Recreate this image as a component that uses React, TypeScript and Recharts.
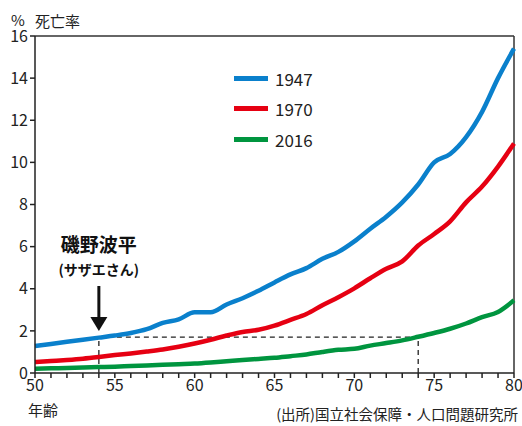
import {
  LineChart,
  Line,
  XAxis,
  YAxis,
  ReferenceLine,
  ReferenceDot,
} from "recharts";

const ages = [
  50, 51, 52, 53, 54, 55, 56, 57, 58, 59, 60, 61, 62, 63, 64, 65, 66, 67, 68,
  69, 70, 71, 72, 73, 74, 75, 76, 77, 78, 79, 80,
];
const rate1947 = [
  1.28, 1.38, 1.48, 1.58, 1.68, 1.78, 1.9, 2.08, 2.38, 2.55, 2.88, 2.88, 3.25,
  3.55, 3.9, 4.3, 4.68, 4.98, 5.42, 5.75, 6.25, 6.85, 7.42, 8.1, 8.95, 10.0,
  10.4, 11.2, 12.4, 14.0, 15.4,
];
const rate1970 = [
  0.52, 0.57, 0.62, 0.68, 0.76, 0.85, 0.93, 1.02, 1.12, 1.25, 1.4, 1.58, 1.78,
  1.95, 2.05, 2.25, 2.52, 2.8, 3.22, 3.6, 4.02, 4.5, 4.95, 5.3, 6.05, 6.6, 7.2,
  8.1, 8.85, 9.8, 10.9,
];
const rate2016 = [
  0.2, 0.22, 0.24, 0.26, 0.28, 0.3, 0.33, 0.36, 0.39, 0.42, 0.45, 0.5, 0.56,
  0.62, 0.67, 0.72, 0.8, 0.88, 1.0, 1.1, 1.15, 1.3, 1.42, 1.55, 1.72, 1.9, 2.1,
  2.35, 2.65, 2.9, 3.45,
];
const yTicks = [0, 2, 4, 6, 8, 10, 12, 14, 16];

const series = [
  { key: "y1947", name: "1947", color: "#0a80cc" },
  { key: "y1970", name: "1970", color: "#e60012" },
  { key: "y2016", name: "2016", color: "#00953f" },
];

const data = ages.map((age, i) => ({
  age,
  y1947: rate1947[i],
  y1970: rate1970[i],
  y2016: rate2016[i],
}));

const FONT = '"Noto Sans CJK JP", "Noto Sans", sans-serif';
const INK = "#222";

const ArrowHead = (props: any) => {
  const { cx, cy } = props;
  return (
    <polygon
      points={`${cx - 8.5},${cy - 14} ${cx + 8.5},${cy - 14} ${cx},${cy}`}
      fill="#111"
    />
  );
};

const NameLabel = (props: any) => {
  const { cx, cy } = props;
  return (
    <g fontFamily={FONT} fill="#111" textAnchor="middle">
      <text x={cx} y={cy} fontSize={19} fontWeight="bold">
        磯野波平
      </text>
      <text x={cx} y={cy + 23} fontSize={14} fontWeight="bold">
        (サザエさん)
      </text>
    </g>
  );
};

const abs = (left: number, top: number, fontSize: number) => ({
  position: "absolute" as const,
  left,
  top,
  fontSize,
  lineHeight: 1,
  whiteSpace: "nowrap" as const,
});

export default function App() {
  return (
    <div
      style={{
        position: "absolute",
        left: 0,
        top: 0,
        width: 522,
        height: 426,
        background: "#fff",
        fontFamily: FONT,
        color: INK,
      }}
    >
      <LineChart
        width={522}
        height={426}
        data={data}
        margin={{ top: 36, right: 8, left: 0, bottom: 23 }}
      >
        <XAxis
          dataKey="age"
          type="number"
          domain={[50, 80]}
          ticks={ages}
          interval={0}
          tickFormatter={(v) => (v % 5 === 0 ? String(v) : "")}
          height={30}
          tickSize={5}
          stroke={INK}
          strokeWidth={1.5}
          tick={{ fill: INK, fontSize: 16, fontFamily: FONT }}
        />
        <YAxis
          domain={[0, 16]}
          ticks={yTicks}
          width={35}
          tickSize={5}
          stroke={INK}
          strokeWidth={1.5}
          tick={{ fill: INK, fontSize: 16, fontFamily: FONT }}
        />
        <ReferenceLine y={16} stroke="#333" strokeWidth={1.5} />
        <ReferenceLine x={80} stroke="#333" strokeWidth={1.5} />
        <ReferenceLine
          segment={[
            { x: 54, y: 0 },
            { x: 54, y: 1.7 },
          ]}
          stroke={INK}
          strokeWidth={1.3}
          strokeDasharray="5 4"
        />
        <ReferenceLine
          segment={[
            { x: 54, y: 1.7 },
            { x: 74, y: 1.7 },
          ]}
          stroke={INK}
          strokeWidth={1.3}
          strokeDasharray="5 4"
        />
        <ReferenceLine
          segment={[
            { x: 74, y: 0 },
            { x: 74, y: 1.7 },
          ]}
          stroke={INK}
          strokeWidth={1.3}
          strokeDasharray="5 4"
        />
        {series.map((s) => (
          <Line
            key={s.key}
            type="monotone"
            dataKey={s.key}
            name={s.name}
            stroke={s.color}
            strokeWidth={4.5}
            dot={false}
            isAnimationActive={false}
          />
        ))}
        <ReferenceLine
          segment={[
            { x: 54, y: 4.13 },
            { x: 54, y: 2.4 },
          ]}
          stroke="#111"
          strokeWidth={3}
        />
        <ReferenceDot x={54} y={2.0} shape={ArrowHead} />
        <ReferenceDot x={54} y={5.75} shape={NameLabel} />
      </LineChart>
      <div style={abs(11, 12, 15)}>%</div>
      <div style={abs(35, 13, 15)}>死亡率</div>
      <div style={abs(28, 402, 15)}>年齢</div>
      <div style={{ ...abs(0, 407, 14.5), left: "auto", right: 4 }}>
        (出所)国立社会保障・人口問題研究所
      </div>
      <div style={{ position: "absolute", left: 234, top: 63 }}>
        {series.map((s) => (
          <div
            key={s.key}
            style={{ display: "flex", alignItems: "center", height: 30.5 }}
          >
            <div style={{ width: 34, height: 5, background: s.color }} />
            <span style={{ marginLeft: 7, fontSize: 17, lineHeight: 1 }}>
              {s.name}
            </span>
          </div>
        ))}
      </div>
    </div>
  );
}
